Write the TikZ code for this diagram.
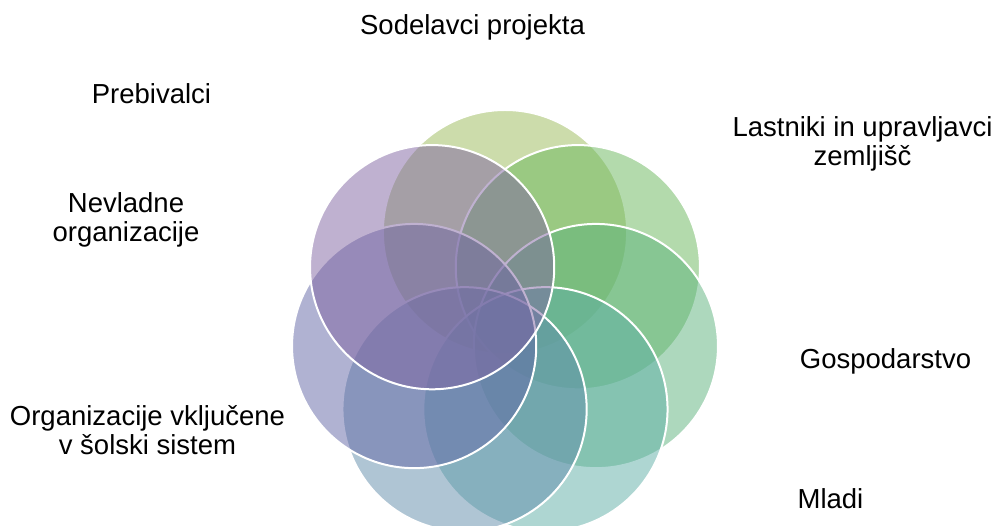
\documentclass[tikz,border=0pt]{standalone}
\usepackage{fontspec}
\setmainfont{Liberation Sans}
\definecolor{g0}{RGB}{155,187,89}
\definecolor{g1}{RGB}{105,183,91}
\definecolor{g2}{RGB}{92,179,124}
\definecolor{g3}{RGB}{94,175,166}
\definecolor{g4}{RGB}{96,140,171}
\definecolor{g5}{RGB}{98,103,166}
\definecolor{g6}{RGB}{128,100,162}
\tikzset{
  bubble/.style={circle, inner sep=0pt, minimum size=244.2pt, draw=white, line width=2pt, fill opacity=0.5},
  lbl/.style={inner sep=0pt, anchor=base, align=center, text=black, font=\fontsize{27.5}{29}\selectfont}
}
\begin{document}
\begin{tikzpicture}[x=1pt,y=-1pt]
\useasboundingbox (0,0) rectangle (998,526);
\clip (0,0) rectangle (998,526);
\fill[white] (0,0) rectangle (998,526);
\foreach \i in {0,...,6}{
  \node[bubble, fill=g\i] (c\i) at ({505+93.2*cos(90-51.4286*\i)}, {325.3-93.2*sin(90-51.4286*\i)}) {};
}
\node[lbl] (t0) at (472.5,35) {Sodelavci projekta};
\node[lbl] (t1) at (862.5,166) {Lastniki in upravljavci\\zemljišč};
\node[lbl] (t2) at (885.5,368) {Gospodarstvo};
\node[lbl] (t3) at (830.5,508) {Mladi};
\node[lbl] (t4) at (147.5,454) {Organizacije vključene\\v šolski sistem};
\node[lbl] (t5) at (126,242) {Nevladne\\organizacije};
\node[lbl] (t6) at (151.5,104) {Prebivalci};
\end{tikzpicture}
\end{document}
